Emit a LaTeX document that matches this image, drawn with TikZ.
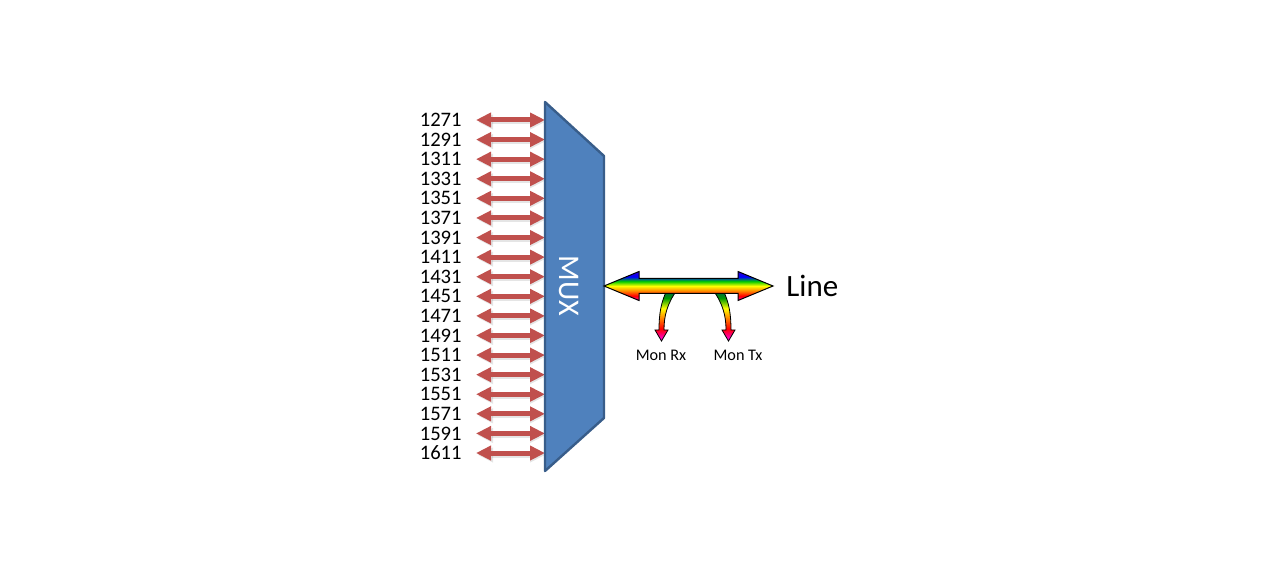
\documentclass[tikz,border=0pt]{standalone}
\usepackage{fontspec}
\setmainfont{Carlito}
\usetikzlibrary{calc,arrows.meta,positioning}
\definecolor{muxfill}{HTML}{4F81BD}
\definecolor{muxedge}{HTML}{385D8A}
\definecolor{portred}{HTML}{C0504D}
\pgfdeclareverticalshading{rainbowline}{100bp}{color(0bp)=(magenta!70!red); color(25bp)=(magenta!70!red); color(33bp)=(red); color(41bp)=(orange); color(50bp)=(yellow); color(58bp)=(green!80!black); color(66bp)=(blue); color(75bp)=(blue!60!violet); color(100bp)=(blue!60!violet)}
\pgfdeclareverticalshading{rainbowmon}{100bp}{color(0bp)=(magenta); color(25bp)=(magenta); color(37bp)=(red); color(47bp)=(orange); color(57bp)=(yellow); color(67bp)=(green!60!black); color(75bp)=(teal!70!black); color(100bp)=(teal!70!black)}
\tikzset{
  port/.style={line width=2.5pt,portred,{Triangle[length=7.5pt,width=7pt]}-{Triangle[length=7.5pt,width=7pt]}},
  portshadow/.style={port,black,opacity=0.1},
  freq/.style={inner sep=0pt,anchor=east,font=\fontsize{10.3}{12}\selectfont},
  mon/.style={font=\fontsize{8.1}{9}\selectfont},
  monarr/.style={shading=rainbowmon,draw=black,line width=0.4pt}
}
\begin{document}
\begin{tikzpicture}[x=0.5pt,y=-0.5pt]
\useasboundingbox (0,0) rectangle (1280,572);
% channel ports
\foreach \i in {0,...,17}{
  \pgfmathtruncatemacro{\w}{1271+20*\i}
  \node[freq] (f\w) at (462,{120+19.59*\i}) {\w};
  \coordinate (p\w) at (545,{120+19.59*\i});
  \draw[portshadow] ([xshift=8pt,yshift=-1pt]f\w.east) -- ([yshift=-1pt]p\w);
  \draw[port] ([xshift=7pt]f\w.east) -- (p\w);
}
% mux body
\coordinate (muxTL) at (545,102);
\coordinate (muxTR) at (604,156);
\coordinate (muxBR) at (604,418);
\coordinate (muxBL) at (545,471);
\draw[muxedge,line width=1.2pt,fill=muxfill,line join=round] (muxTL) -- (muxTR) -- (muxBR) -- (muxBL) -- cycle;
\node[rotate=-90,white,font=\fontsize{15}{18}\selectfont] (muxlbl) at (569,286) {MUX};
% monitor taps
\node[mon] (monrx) at (661,355) {Mon Rx};
\node[mon] (montx) at (738,355) {Mon Tx};
\shadedraw[monarr] (667,290) .. controls (661,302) and (659,314) .. (659,330) -- (655,330) -- (661.5,341) -- (668,330) -- (664,330) .. controls (664,316) and (667,304) .. (677,290) -- cycle;
\shadedraw[monarr] (723,290) .. controls (729,302) and (731,314) .. (731,330) -- (735,330) -- (728.5,341) -- (722,330) -- (726,330) .. controls (726,316) and (723,304) .. (713,290) -- cycle;
% line port
\coordinate (lineL) at (604,286);
\coordinate (lineR) at (773,286);
\shadedraw[shading=rainbowline,draw=black,line width=0.5pt]
  (lineL) -- ($(lineL)+(35,-14.5)$) -- ($(lineL)+(35,-7.5)$) -- ($(lineR)+(-35,-7.5)$) -- ($(lineR)+(-35,-14.5)$)
  -- (lineR) -- ($(lineR)+(-35,14.5)$) -- ($(lineR)+(-35,7.5)$) -- ($(lineL)+(35,7.5)$) -- ($(lineL)+(35,14.5)$) -- cycle;
\node[anchor=west,inner sep=0pt,font=\fontsize{15.5}{18}\selectfont] (line) at (786,286) {Line};
\end{tikzpicture}
\end{document}
